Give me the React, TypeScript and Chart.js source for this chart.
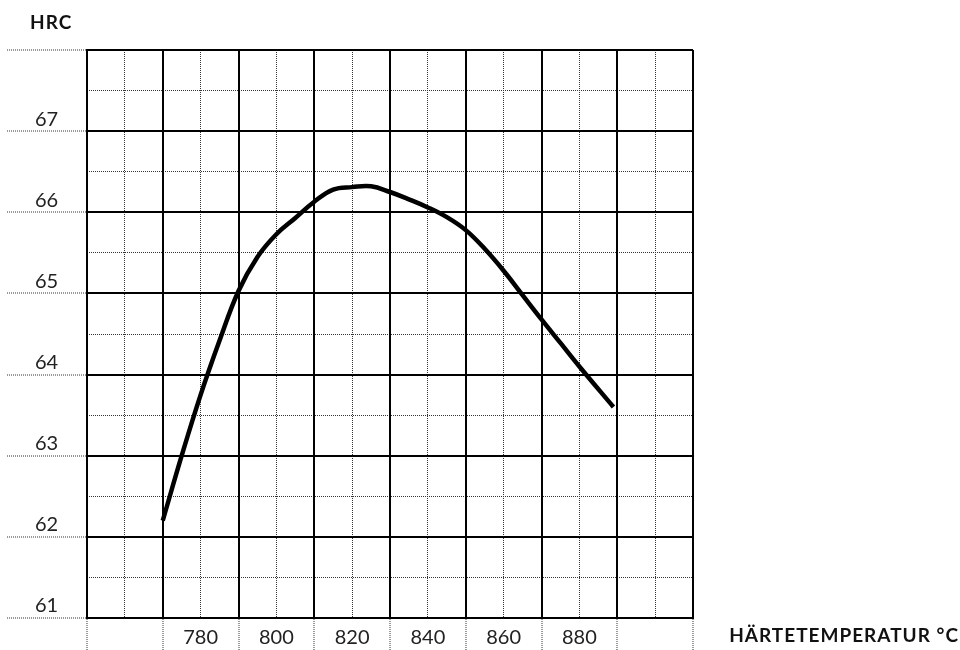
import { useEffect, useRef } from "react";
import { Chart, registerables } from "chart.js";

Chart.register(...registerables);

// ---- data ----
const temperatures = [770, 775, 780, 785, 790, 795, 800, 805, 810, 815, 820, 825, 830, 835, 840, 845, 850, 855, 860, 865, 870, 875, 880, 889];
const hardness = [62.2, 63.0, 63.75, 64.42, 65.03, 65.45, 65.73, 65.93, 66.13, 66.28, 66.31, 66.32, 66.25, 66.16, 66.06, 65.94, 65.78, 65.55, 65.28, 64.98, 64.68, 64.39, 64.1, 63.6];
const xTickLabels = [780, 800, 820, 840, 860, 880];
const yTickLabels = [61, 62, 63, 64, 65, 66, 67];
const yAxisTitle = "HRC";
const xAxisTitle = "HÄRTETEMPERATUR °C";
const xMin = 750;
const xMax = 910;
const yMin = 61;
const yMax = 68;

const FONT = "Lato, 'Noto Sans', sans-serif";
const DOT = "#333";

export default function App() {
  const ref = useRef<HTMLCanvasElement>(null);

  useEffect(() => {
    if (!ref.current) return;
    const isMajorX = (v: number) => Math.round(v) % 20 === 10;

    const titles = {
      id: "titles",
      afterDraw(chart: any) {
        const ctx = chart.ctx;
        ctx.save();
        ctx.fillStyle = "#111";
        ctx.textBaseline = "alphabetic";
        try {
          ctx.letterSpacing = "1px";
        } catch (e) {}
        ctx.font = `bold 19px ${FONT}`;
        ctx.textAlign = "left";
        ctx.fillText(yAxisTitle, 30, 29);
        ctx.textAlign = "right";
        ctx.fillText(xAxisTitle, 959, 642);
        ctx.restore();
      },
    };

    const chart = new Chart(ref.current, {
      type: "line",
      data: {
        datasets: [
          {
            data: temperatures.map((t, i) => ({ x: t, y: hardness[i] })),
            borderColor: "#000",
            borderWidth: 4.5,
            pointRadius: 0,
            tension: 0.4,
            fill: false,
          },
        ],
      },
      options: {
        animation: false,
        responsive: false,
        devicePixelRatio: 1,
        layout: { padding: { left: 35, top: 50, right: 267, bottom: 0 } },
        plugins: {
          legend: { display: false },
          tooltip: { enabled: false },
        },
        scales: {
          xMinor: {
            type: "linear",
            position: "bottom",
            min: xMin,
            max: xMax,
            ticks: { stepSize: 10, display: false, autoSkip: false },
            grid: {
              z: -1,
              drawTicks: false,
              lineWidth: 1,
              color: (c: any) => (isMajorX(c.tick.value) ? "transparent" : DOT),
            },
            border: { display: false, dash: [1, 1] },
          },
          yMinor: {
            type: "linear",
            position: "left",
            min: yMin,
            max: yMax,
            ticks: { stepSize: 0.5, display: false, autoSkip: false },
            grid: {
              z: -1,
              drawTicks: false,
              lineWidth: 1,
              color: (c: any) => (Number.isInteger(c.tick.value) ? "transparent" : DOT),
            },
            border: { display: false, dash: [1, 1] },
          },
          x: {
            type: "linear",
            position: "bottom",
            min: xMin,
            max: xMax,
            afterFit: (s: any) => {
              s.height = 32;
            },
            ticks: {
              stepSize: 10,
              autoSkip: false,
              maxRotation: 0,
              minRotation: 0,
              padding: -24,
              color: "#222",
              font: { family: FONT, size: 20 },
              callback: (v: any) => (xTickLabels.includes(Number(v)) ? String(v) : ""),
            },
            grid: {
              lineWidth: 2,
              color: (c: any) => (isMajorX(c.tick.value) ? "#000" : "transparent"),
              drawTicks: true,
              tickLength: 32,
              tickWidth: 1,
              tickColor: (c: any) => (isMajorX(c.tick.value) ? DOT : "transparent"),
              tickBorderDash: [1, 1],
            },
            border: { display: true, color: "#000", width: 2 },
          },
          y: {
            type: "linear",
            position: "left",
            min: yMin,
            max: yMax,
            afterFit: (s: any) => {
              s.width = 52;
            },
            ticks: {
              stepSize: 1,
              autoSkip: false,
              crossAlign: "far",
              labelOffset: -12,
              color: "#222",
              font: { family: FONT, size: 20 },
              callback: (v: any) => (yTickLabels.includes(Number(v)) ? String(v) : ""),
            },
            grid: {
              lineWidth: 2,
              color: "#000",
              drawTicks: true,
              tickLength: 80,
              tickWidth: 1,
              tickColor: DOT,
              tickBorderDash: [1, 1],
            },
            border: { display: true, color: "#000", width: 2 },
          },
        },
      },
      plugins: [titles],
    } as any);

    return () => chart.destroy();
  }, []);

  return (
    <div style={{ position: "absolute", left: 0, top: 0, width: 960, height: 650 }}>
      <canvas ref={ref} width={960} height={650} style={{ display: "block" }} />
    </div>
  );
}
